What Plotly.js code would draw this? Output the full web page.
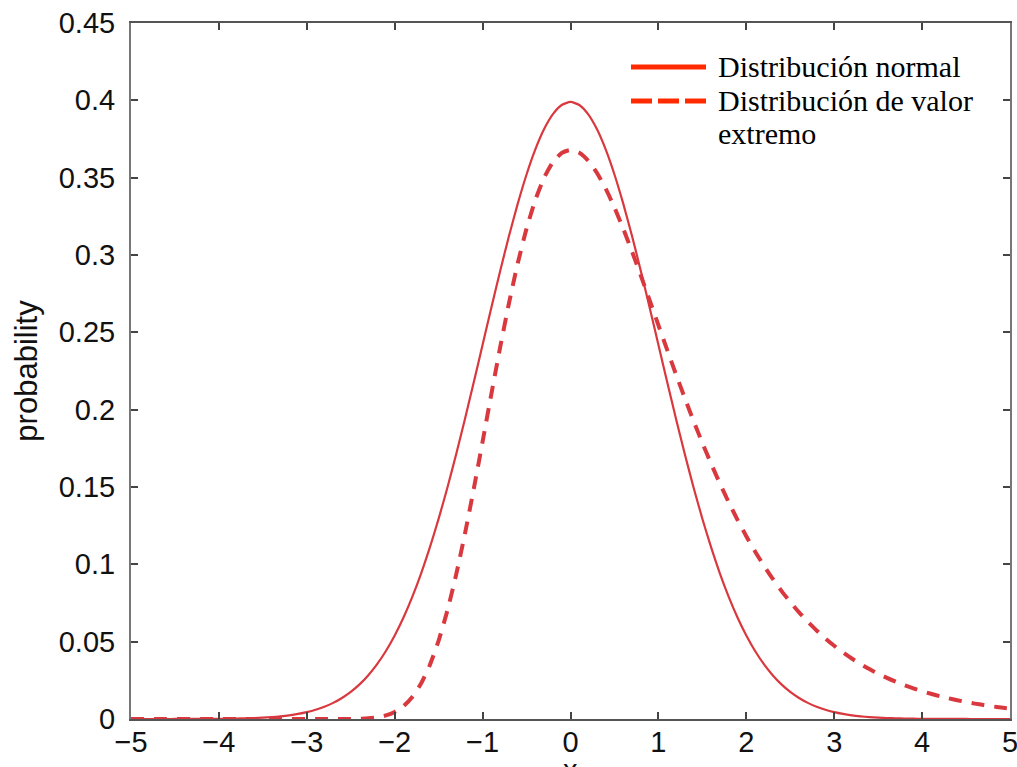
<!DOCTYPE html>
<html>
<head>
<meta charset="utf-8">
<script src="https://cdn.plot.ly/plotly-3.0.1.min.js"></script>
<style>html,body{margin:0;padding:0;background:#fff;}#chart{width:1017px;height:767px;}</style>
</head>
<body>
<div id="chart"></div>
<script>
// x grid (step 0.1 from -5 to 5)
const xValues = [-5,-4.9,-4.8,-4.7,-4.6,-4.5,-4.4,-4.3,-4.2,-4.1,-4,-3.9,-3.8,-3.7,-3.6,-3.5,-3.4,-3.3,-3.2,-3.1,-3,-2.9,-2.8,-2.7,-2.6,-2.5,-2.4,-2.3,-2.2,-2.1,-2,-1.9,-1.8,-1.7,-1.6,-1.5,-1.4,-1.3,-1.2,-1.1,-1,-0.9,-0.8,-0.7,-0.6,-0.5,-0.4,-0.3,-0.2,-0.1,0,0.1,0.2,0.3,0.4,0.5,0.6,0.7,0.8,0.9,1,1.1,1.2,1.3,1.4,1.5,1.6,1.7,1.8,1.9,2,2.1,2.2,2.3,2.4,2.5,2.6,2.7,2.8,2.9,3,3.1,3.2,3.3,3.4,3.5,3.6,3.7,3.8,3.9,4,4.1,4.2,4.3,4.4,4.5,4.6,4.7,4.8,4.9,5];
// "Distribución normal" probability values
const normalValues = [0,0,0,0.00001,0.00001,0.00002,0.00002,0.00004,0.00006,0.00009,0.00013,
  0.00020,0.00029,0.00042,0.00061,0.00087,0.00123,0.00172,0.00238,0.00327,0.00443,
  0.00595,0.00792,0.01042,0.01358,0.01753,0.02239,0.02833,0.03547,0.04398,0.05399,
  0.06562,0.07895,0.09405,0.11092,0.12952,0.14973,0.17137,0.19419,0.21785,0.24197,
  0.26609,0.28969,0.31225,0.33322,0.35207,0.36827,0.38139,0.39104,0.39695,0.39894,
  0.39695,0.39104,0.38139,0.36827,0.35207,0.33322,0.31225,0.28969,0.26609,0.24197,
  0.21785,0.19419,0.17137,0.14973,0.12952,0.11092,0.09405,0.07895,0.06562,0.05399,
  0.04398,0.03547,0.02833,0.02239,0.01753,0.01358,0.01042,0.00792,0.00595,0.00443,
  0.00327,0.00238,0.00172,0.00123,0.00087,0.00061,0.00042,0.00029,0.00020,0.00013,
  0.00009,0.00006,0.00004,0.00002,0.00002,0.00001,0.00001,0,0,0];
// "Distribución de valor extremo" probability values
const extremeValues = [0,0,0,0,0,0,0,0,0,0,0,0,0,0,0,0,0,0,0,0,0,0,0,
  0.000005,0.000019,0.000063,0.00018,0.000465,0.001087,0.002321,0.004566,
  0.008348,0.014264,0.022966,0.03498,0.05070,0.07028,0.09354,0.12003,0.14896,0.17937,
  0.21025,0.24039,0.26881,0.29462,0.31704,0.33560,0.34996,0.36008,0.36597,0.36788,
  0.36612,0.36106,0.35316,0.34290,0.33070,0.31701,0.30222,0.28672,0.27073,0.25464,
  0.23862,0.22287,0.20754,0.19272,0.17853,0.16500,0.15219,0.14012,0.12880,0.11820,
  0.10833,0.09918,0.09069,0.08285,0.07562,0.06896,0.06284,0.05722,0.05208,0.04737,
  0.04306,0.03913,0.03555,0.03228,0.02930,0.02659,0.02412,0.02188,0.01984,0.01799,
  0.01630,0.01477,0.01339,0.01213,0.01098,0.00995,0.00901,0.00816,0.00739,0.00669];
// axis ticks
const xTicks = [-5,-4,-3,-2,-1,0,1,2,3,4,5];
const yTicks = [0,0.05,0.1,0.15,0.2,0.25,0.3,0.35,0.4,0.45];
// legend labels
const legendNormal = 'Distribución normal';
const legendExtreme1 = 'Distribución de valor';
const legendExtreme2 = 'extremo';
const xTitle = 'x';
const yTitle = 'probability';

const curveColor = '#d9393e';
const legendColor = '#ff2a00';

const traces = [
  {x: xValues, y: normalValues, type: 'scatter', mode: 'lines', name: legendNormal,
   line: {color: curveColor, width: 2.2, shape: 'spline', smoothing: 0.6}, showlegend: false, hoverinfo: 'skip'},
  {x: xValues, y: extremeValues, type: 'scatter', mode: 'lines', name: legendExtreme1 + ' ' + legendExtreme2,
   line: {color: curveColor, width: 4, dash: '13px,10px', shape: 'spline', smoothing: 0.6}, showlegend: false, hoverinfo: 'skip'}
];

const axisFont = {family: '"Liberation Sans", Arial, Helvetica, sans-serif', size: 29, color: '#111'};
const serif = {family: '"Liberation Serif", "Times New Roman", serif', size: 30, color: '#000'};

const L = 131, T = 23, R = 1010, B = 719;
const W = R - L, H = B - T;
const px = v => (v - L) / W;
const py = v => (B - v) / H;

const layout = {
  width: 1017, height: 767,
  margin: {l: L, r: 1017 - R, t: T, b: 767 - B, pad: 0},
  paper_bgcolor: '#fff', plot_bgcolor: '#fff',
  showlegend: false,
  xaxis: {
    range: [-5, 5], tickvals: xTicks, ticks: 'inside', ticklen: 7, tickwidth: 2, tickcolor: '#444',
    showline: true, linecolor: '#555', linewidth: 2, mirror: 'ticks', showgrid: false, zeroline: false,
    tickfont: axisFont, ticklabelstandoff: -4, ticklabeloverflow: 'allow', automargin: false
  },
  yaxis: {
    range: [0, 0.45], tickvals: yTicks, ticks: 'inside', ticklen: 7, tickwidth: 2, tickcolor: '#444',
    showline: true, linecolor: '#777', linewidth: 2, mirror: 'ticks', showgrid: false, zeroline: false,
    tickfont: axisFont, ticklabelstandoff: 8, automargin: false,
    title: {text: yTitle, font: {family: axisFont.family, size: 31, color: '#111'}, standoff: 12}
  },
  shapes: [
    {type: 'line', xref: 'paper', yref: 'paper', x0: px(631), x1: px(706), y0: py(67), y1: py(67),
     line: {color: legendColor, width: 5}},
    {type: 'line', xref: 'paper', yref: 'paper', x0: px(631), x1: px(706), y0: py(101), y1: py(101),
     line: {color: legendColor, width: 5, dash: '21px,6px'}}
  ],
  annotations: [
    {xref: 'paper', yref: 'paper', x: px(716), y: py(67), xanchor: 'left', yanchor: 'middle', showarrow: false,
     text: legendNormal, font: serif},
    {xref: 'paper', yref: 'paper', x: px(716), y: py(101), xanchor: 'left', yanchor: 'middle', showarrow: false,
     text: legendExtreme1, font: serif},
    {xref: 'paper', yref: 'paper', x: px(716), y: py(134), xanchor: 'left', yanchor: 'middle', showarrow: false,
     text: legendExtreme2, font: serif},
    {xref: 'paper', yref: 'paper', x: 0.5, y: py(752), xanchor: 'center', yanchor: 'top', showarrow: false,
     text: xTitle, font: axisFont}
  ]
};

Plotly.newPlot('chart', traces, layout, {staticPlot: true, displayModeBar: false});
</script>
</body>
</html>
